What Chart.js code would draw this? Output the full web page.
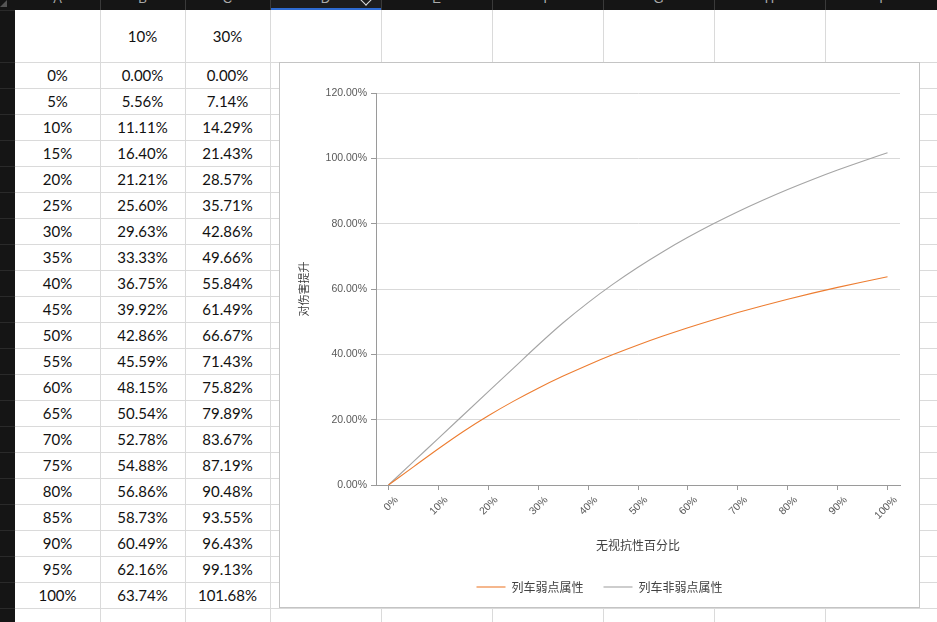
<!DOCTYPE html>
<html>
<head>
<meta charset="utf-8">
<script src="https://cdn.jsdelivr.net/npm/chart.js@4.4.1/dist/chart.umd.min.js"></script>
<style>
  html, body { margin: 0; padding: 0; }
  body { width: 937px; height: 622px; position: relative; overflow: hidden; background: #fff; font-family: Lato, "Noto Sans", sans-serif; }
  .abs { position: absolute; }
  .vl { position: absolute; width: 1px; background: #dadada; }
  .hl { position: absolute; height: 1px; background: #dadada; }
  .cell { position: absolute; text-align: center; font-size: 15px; color: #111; }
  #chartBox { position: absolute; left: 279px; top: 62px; width: 639px; height: 544px; border: 1px solid #c4c4c4; background: #fff; }
</style>
</head>
<body>
<div id="sheet"></div>
<div id="chartBox"><canvas id="chart" width="639" height="544"></canvas></div>
<script>
// table / chart data
var rowLabels = ['0%','5%','10%','15%','20%','25%','30%','35%','40%','45%','50%','55%','60%','65%','70%','75%','80%','85%','90%','95%','100%']
var colHeads = ['10%', '30%']
var weakValues = [0, 5.56, 11.11, 16.40, 21.21, 25.60, 29.63, 33.33, 36.75, 39.92, 42.86, 45.59, 48.15, 50.54, 52.78, 54.88, 56.86, 58.73, 60.49, 62.16, 63.74]
var nonWeakValues = [0, 7.14, 14.29, 21.43, 28.57, 35.71, 42.86, 49.66, 55.84, 61.49, 66.67, 71.43, 75.82, 79.89, 83.67, 87.19, 90.48, 93.55, 96.43, 99.13, 101.68]
var seriesNames = ['列车弱点属性', '列车非弱点属性']
var letters = ['A','B','C','D','E','F','G','H','I']

// spreadsheet grid
var sheet = document.getElementById('sheet')
var colX = [15, 100, 185, 270, 381, 492, 603, 714, 825, 937]
var rowY = [10, 62]
for (var r = 1; r <= 22; r++) rowY.push(62 + r * 26)

function add(cls, css, text) {
    var d = document.createElement('div')
    d.className = cls
    d.style.cssText = css
    if (text !== undefined) d.textContent = text
    sheet.appendChild(d)
    return d
}

colX.slice(1, -1).forEach(x => add('vl', 'left:' + x + 'px;top:10px;height:612px;'))
rowY.slice(1).forEach(y => add('hl', 'left:15px;top:' + y + 'px;width:922px;'))

// black frame: column headers and row headers
add('abs', 'left:0;top:0;width:937px;height:10px;background:#151515;')
add('abs', 'left:0;top:0;width:15px;height:622px;background:#151515;')
add('abs', 'left:271px;top:0;width:110px;height:8px;background:#1d1d1d;')
add('abs', 'left:271px;top:8px;width:110px;height:2px;background:#2e6bd1;')
rowY.forEach(y => add('abs', 'left:0;top:' + y + 'px;width:15px;height:1px;background:#2a2a2a;'))
colX.slice(1, -1).forEach(x => add('abs', 'left:' + x + 'px;top:0;width:1px;height:10px;background:#3a3a3a;'))
letters.forEach((l, i) => {
    add('abs', 'left:' + colX[i] + 'px;width:' + (colX[i + 1] - colX[i]) + 'px;top:-9px;text-align:center;font:13px "Liberation Sans";color:#aaa;', l)
})
add('abs', 'left:362px;top:-4px;width:7px;height:7px;border-right:1.5px solid #ddd;border-bottom:1.5px solid #ddd;transform:rotate(45deg);')
add('abs', 'left:0;top:0;width:0;height:0;border-left:7px solid transparent;border-bottom:7px solid #555;')

// header row
colHeads.forEach((h, i) => {
    add('cell', 'left:' + colX[i + 1] + 'px;width:' + (colX[i + 2] - colX[i + 1]) + 'px;top:27px;', h)
})
// data rows
rowLabels.forEach((lab, r) => {
    var top = rowY[r + 1] + 4
    add('cell', 'left:15px;width:85px;top:' + top + 'px;', lab)
    add('cell', 'left:100px;width:85px;top:' + top + 'px;', weakValues[r].toFixed(2) + '%')
    add('cell', 'left:185px;width:85px;top:' + top + 'px;', nonWeakValues[r].toFixed(2) + '%')
})

// chart
var tickFont = { family: '"Liberation Sans", "Noto Sans CJK SC"', size: 10.5 }
var cjkFont = { family: '"Noto Sans CJK SC", "Liberation Sans"', size: 12 }

var ctx = document.getElementById('chart').getContext('2d')
var chart = new Chart(ctx, {
    type: 'line',
    data: {
        labels: rowLabels,
        datasets: [{
            label: seriesNames[0],
            data: weakValues,
            borderColor: '#ED7D31',
            backgroundColor: '#ED7D31',
            borderWidth: 1.1,
            pointRadius: 0,
            cubicInterpolationMode: 'monotone'
        }, {
            label: seriesNames[1],
            data: nonWeakValues,
            borderColor: '#A5A5A5',
            backgroundColor: '#A5A5A5',
            borderWidth: 1.1,
            pointRadius: 0,
            cubicInterpolationMode: 'monotone'
        }]
    },
    options: {
        responsive: false,
        animation: false,
        devicePixelRatio: 1,
        layout: { padding: { top: 30, right: 0, bottom: 4, left: 0 } },
        plugins: {
            tooltip: { enabled: false },
            legend: {
                position: 'bottom',
                labels: {
                    usePointStyle: true,
                    pointStyle: 'line',
                    pointStyleWidth: 29,
                    padding: 20,
                    color: '#404040',
                    font: cjkFont
                }
            }
        },
        scales: {
            x: {
                offset: true,
                border: { color: '#9a9a9a' },
                grid: { drawOnChartArea: false, tickLength: 5, color: '#9a9a9a' },
                ticks: {
                    autoSkip: false,
                    maxRotation: 45,
                    minRotation: 45,
                    labelOffset: 8,
                    padding: 4,
                    color: '#595959',
                    font: tickFont,
                    callback: function(v, i) { return i % 2 === 0 ? this.getLabelForValue(v) : null }
                },
                title: { display: true, text: '无视抗性百分比', color: '#404040', font: cjkFont, padding: { top: 8, bottom: 8 } },
                afterFit: function(s) { s.height = 76 }
            },
            y: {
                min: 0,
                max: 120,
                border: { color: '#9a9a9a' },
                grid: { color: '#d9d9d9', tickColor: '#9a9a9a', tickLength: 5 },
                ticks: {
                    stepSize: 20,
                    padding: 4,
                    color: '#595959',
                    font: tickFont,
                    callback: v => v.toFixed(2) + '%'
                },
                title: { display: true, text: '对伤害提升', color: '#404040', font: { family: cjkFont.family, size: 11 }, padding: { top: 17, bottom: 0 } },
                afterFit: function(s) { s.width = 96 }
            },
            // empty right-side spacer so the plot ends where the reference's does
            spacer: {
                type: 'linear',
                position: 'right',
                grid: { display: false },
                border: { display: false },
                ticks: { display: false },
                afterFit: function(s) { s.width = 19 }
            }
        }
    }
})
</script>
</body>
</html>
